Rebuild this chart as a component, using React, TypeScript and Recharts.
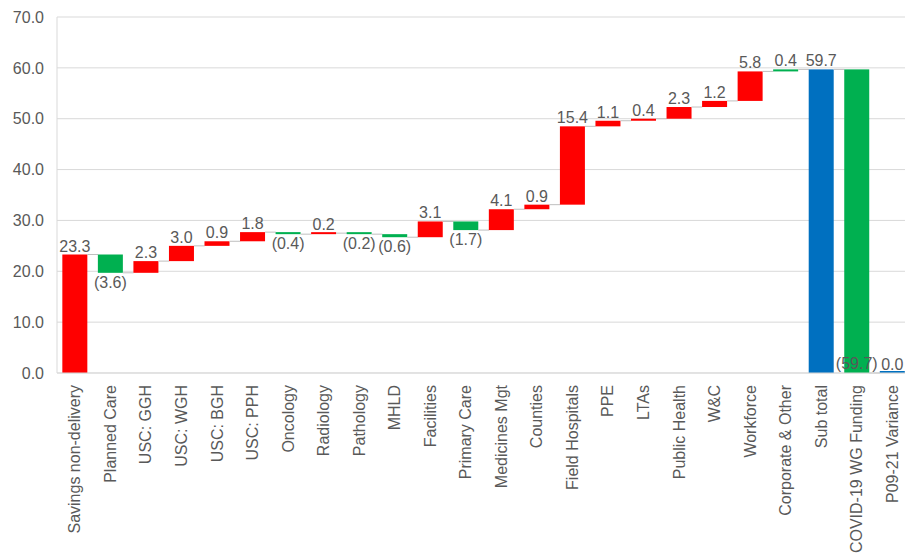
import { BarChart, Bar, XAxis, YAxis, CartesianGrid } from 'recharts';

// Waterfall: COVID-19 cost build-up (£m)
const categories = [
    'Savings non-delivery', 'Planned Care', 'USC: GGH', 'USC: WGH', 'USC: BGH', 'USC: PPH',
    'Oncology', 'Radiology', 'Pathology', 'MHLD', 'Facilities', 'Primary Care',
    'Medicines Mgt', 'Counties', 'Field Hospitals', 'PPE', 'LTAs', 'Public Health',
    'W&C', 'Workforce', 'Corporate & Other', 'Sub total', 'COVID-19 WG Funding', 'P09-21 Variance',
];
const changes = [
    23.3, -3.6, 2.3, 3.0, 0.9, 1.8,
    -0.4, 0.2, -0.2, -0.6, 3.1, -1.7,
    4.1, 0.9, 15.4, 1.1, 0.4, 2.3,
    1.2, 5.8, 0.4, 59.7, -59.7, 0.0,
];
// 'delta' floats on the running total, 'total' stands on zero
const kinds = [
    'delta', 'delta', 'delta', 'delta', 'delta', 'delta',
    'delta', 'delta', 'delta', 'delta', 'delta', 'delta',
    'delta', 'delta', 'delta', 'delta', 'delta', 'delta',
    'delta', 'delta', 'delta', 'total', 'delta', 'total',
];
const barFill = [
    '#FF0000', '#00B050', '#FF0000', '#FF0000', '#FF0000', '#FF0000',
    '#00B050', '#FF0000', '#00B050', '#00B050', '#FF0000', '#00B050',
    '#FF0000', '#FF0000', '#FF0000', '#FF0000', '#FF0000', '#FF0000',
    '#FF0000', '#FF0000', '#00B050', '#0070C0', '#00B050', '#0070C0',
];
const yTicks = [0, 10, 20, 30, 40, 50, 60, 70];

const TEXT = '#595959';
const FONT = '"Liberation Sans", Arial, sans-serif';
const GAP_PCT = 0.15;

let running = 0;
const data = categories.map((name, i) => {
    const v = changes[i];
    let start: number, end: number;
    if (kinds[i] === 'total') {
        start = 0;
        end = v;
    } else {
        start = running;
        end = running + v;
    }
    running = end;
    return { name, value: v, start, end, range: [Math.min(start, end), Math.max(start, end)] };
});

const fmt = (v: number) => (v < 0 ? `(${Math.abs(v).toFixed(1)})` : v.toFixed(1));

const WaterfallShape = (props: any) => {
    const { x, y, width, height, index, payload } = props;
    const top = Math.min(y, y + height);
    const bottom = Math.max(y, y + height);
    const fill = barFill[index];
    const v = payload.value;
    const h = bottom - top;
    const endY = payload.end >= payload.start ? top : bottom;
    const gap = (width * 2 * GAP_PCT) / (1 - 2 * GAP_PCT);

    let labelY: number;
    if (v < 0) {
        labelY = Math.abs(payload.end) < 1e-9 ? bottom - 4 : bottom + 15;
    } else {
        labelY = top - 3;
    }

    return (
        <g>
            <rect x={x} y={h < 2 ? bottom - 2 : top} width={width} height={Math.max(h, 2)} fill={fill} />
            {index < categories.length - 1 && (
                <line x1={x + width} x2={x + width + gap} y1={endY} y2={endY} stroke="#BFBFBF" strokeWidth={1} />
            )}
            <text x={x + width / 2} y={labelY} textAnchor="middle" fontSize={16} fill={TEXT} fontFamily={FONT}>
                {fmt(v)}
            </text>
        </g>
    );
};

const CategoryTick = (props: any) => {
    const { x, y, payload } = props;
    const ty = y + 12;
    return (
        <text
            x={x}
            y={ty}
            dy="0.35em"
            transform={`rotate(-90, ${x}, ${ty})`}
            textAnchor="end"
            fontSize={16}
            fill={TEXT}
            fontFamily={FONT}
        >
            {payload.value}
        </text>
    );
};

export default function App() {
    // fixed so the chart's edge bleed does not add page scrollbars
    return (
        <div style={{ position: 'fixed', left: 8, top: 8, width: 897, height: 548, background: '#fff' }}>
            <BarChart
                width={897}
                height={548}
                data={data}
                margin={{ top: 9, right: -5, left: 0, bottom: 0 }}
                barCategoryGap={`${GAP_PCT * 100}%`}
            >
                <CartesianGrid vertical={false} stroke="#D9D9D9" />
                <XAxis
                    dataKey="name"
                    interval={0}
                    height={183}
                    tickLine={false}
                    tickSize={0}
                    tickMargin={0}
                    axisLine={{ stroke: '#D9D9D9' }}
                    tick={<CategoryTick />}
                />
                <YAxis
                    width={49}
                    domain={[0, 70]}
                    ticks={yTicks}
                    tickFormatter={(v: number) => v.toFixed(1)}
                    tickLine={false}
                    tickSize={0}
                    tickMargin={13}
                    axisLine={{ stroke: '#D9D9D9' }}
                    tick={{ fontSize: 16, fill: TEXT, fontFamily: FONT }}
                />
                <Bar dataKey="range" isAnimationActive={false} shape={<WaterfallShape />} />
            </BarChart>
        </div>
    );
}
